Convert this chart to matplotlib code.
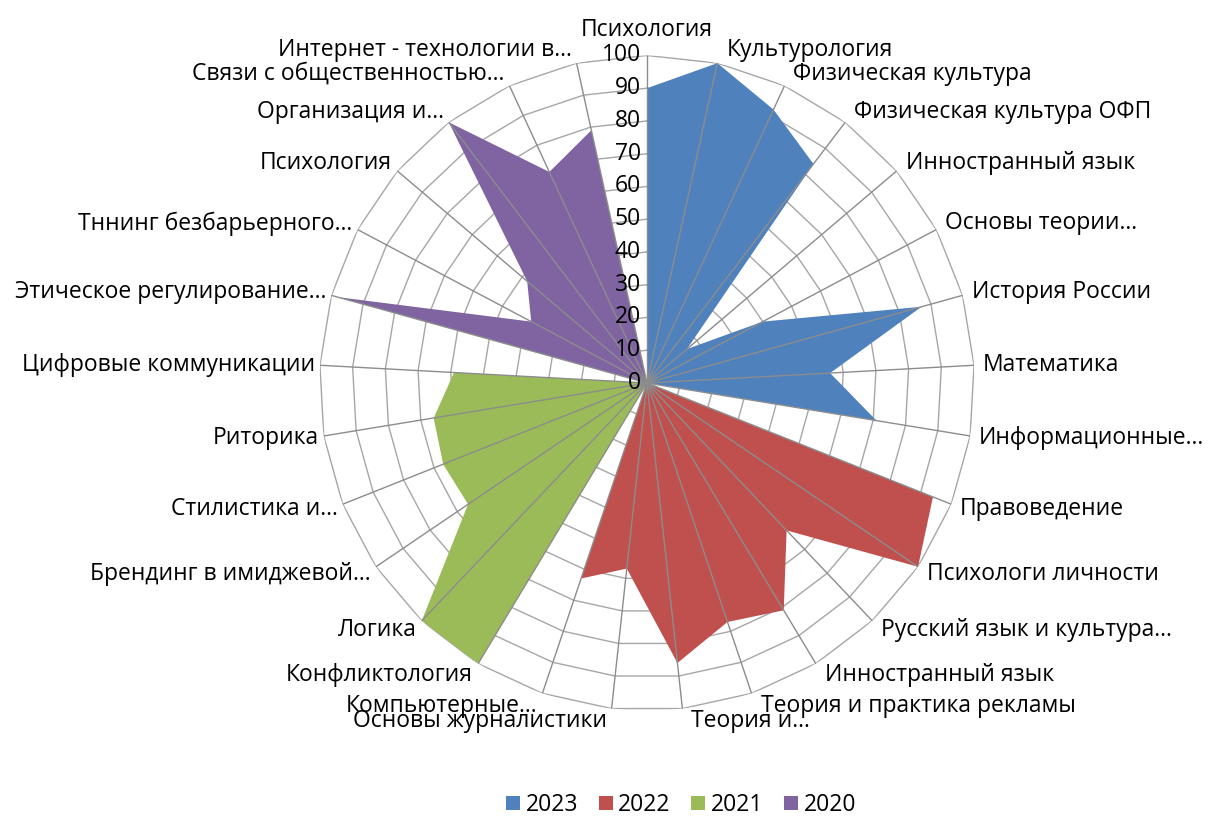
import numpy as np
import matplotlib
matplotlib.use("Agg")
from matplotlib import pyplot as plt
from matplotlib.patches import Patch

plt.rcParams['font.family'] = ['Open Sans', 'DejaVu Sans']

categorias = ["Психология", "Культурология", "Физическая культура", "Физическая культура ОФП",
              "Инностранный язык", "Основы теории…", "История России", "Математика",
              "Информационные…", "Правоведение", "Психологи личности", "Русский язык и культура…",
              "Инностранный язык", "Теория и практика рекламы", "Теория и…", "Основы журналистики",
              "Компьютерные…", "Конфликтология", "Логика", "Брендинг в имиджевой…",
              "Стилистика и…", "Риторика", "Цифровые коммуникации", "Этическое регулирование…",
              "Тннинг безбарьерного…", "Психология", "Организация и…", "Связи с общественностью…",
              "Интернет - технологии в…"]

anos = ["2023", "2022", "2021", "2020"]
cores = ["#4F81BD", "#C0504D", "#9BBB59", "#8064A2"]

v2023 = [90, 100, 92, 84, 16, 40, 87, 56, 71, 0, 0, 0, 0, 0, 0, 0, 0, 0, 0, 0, 0, 0, 0, 0, 0, 0, 0, 0, 0]
v2022 = [0, 0, 0, 0, 0, 0, 0, 0, 0, 94, 100, 62, 81, 77, 86, 57, 63, 0, 0, 0, 0, 0, 0, 0, 0, 0, 0, 0, 0]
v2021 = [0, 0, 0, 0, 0, 0, 0, 0, 0, 0, 0, 0, 0, 0, 0, 0, 0, 100, 100, 66, 67, 66, 59, 0, 0, 0, 0, 0, 0]
v2020 = [0, 0, 0, 0, 0, 0, 0, 0, 0, 0, 0, 0, 0, 0, 0, 0, 0, 0, 0, 0, 0, 0, 0, 98, 40, 48, 100, 71, 79]

niveis = [0, 10, 20, 30, 40, 50, 60, 70, 80, 90, 100]

tamanho = 16.5

n = len(categorias)
angulos = np.arange(n) * 2 * np.pi / n
fechado = np.append(angulos, angulos[0])

fig = plt.figure(figsize=(12.11, 8.16), dpi=100)
ax = fig.add_axes([0.2638, 0.1293, 0.5409, 0.8027], projection='polar')
ax.set_theta_zero_location('N')
ax.set_theta_direction(-1)
ax.set_ylim(0, 100)
ax.grid(False)
ax.spines['polar'].set_visible(False)
ax.set_xticks([])
ax.set_yticks([])
ax.patch.set_alpha(0)

# aneis do grid
for nivel in niveis[1:]:
    ax.plot(fechado, [nivel] * (n + 1), color='#a6a6a6', lw=1, zorder=1)

for valores, cor in zip([v2023, v2022, v2021, v2020], cores):
    ax.fill(fechado, valores + valores[:1], color=cor, lw=0, zorder=2)

# eixos (raios)
for a in angulos:
    ax.plot([a, a], [0, 100], color='#8c8c8c', lw=1, zorder=3)

for nivel in niveis:
    ax.annotate(str(nivel), xy=(0, nivel), xytext=(-6, 0), textcoords='offset pixels',
                ha='right', va='center', fontsize=tamanho, color='#000000', zorder=4)

for a, nome in zip(angulos, categorias):
    s = np.sin(a)
    c = np.cos(a)
    if abs(s) < 0.05:
        ax.annotate(nome, xy=(a, 100), xytext=(0, 13), textcoords='offset pixels',
                    ha='center', va='bottom', fontsize=tamanho)
    else:
        ha = 'left' if s > 0 else 'right'
        dx = 9 if s > 0 else -5
        ax.annotate(nome, xy=(a, 100), xytext=(dx, 13 * c), textcoords='offset pixels',
                    ha=ha, va='center', fontsize=tamanho)

handles = [Patch(facecolor=cor, edgecolor='none') for cor in cores]
fig.legend(handles, anos, loc='center', bbox_to_anchor=(0.5624, 0.0135), ncol=4, frameon=False,
           fontsize=tamanho, handlelength=0.6, handleheight=0.6, handletextpad=0.25, columnspacing=0.9)

plt.savefig('out.png', dpi=100)
